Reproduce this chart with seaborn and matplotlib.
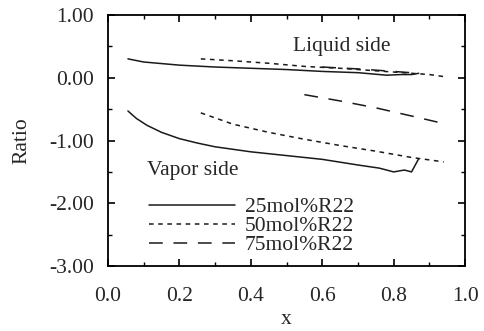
import matplotlib
matplotlib.use("Agg")
import matplotlib.pyplot as plt
import seaborn as sns
import pandas as pd
from matplotlib.lines import Line2D

sns.set_style("ticks")
plt.rcParams['font.family'] = ['Liberation Serif', 'DejaVu Serif']

# Data
x25_liq = [0.056, 0.10, 0.20, 0.30, 0.40, 0.50, 0.60, 0.70, 0.78, 0.82, 0.85, 0.87]
y25_liq = [0.30, 0.25, 0.20, 0.17, 0.15, 0.13, 0.10, 0.08, 0.04, 0.05, 0.05, 0.07]
x25_vap = [0.056, 0.08, 0.11, 0.15, 0.20, 0.25, 0.30, 0.40, 0.50, 0.60, 0.70, 0.76, 0.80, 0.83, 0.85, 0.87]
y25_vap = [-0.53, -0.65, -0.76, -0.87, -0.97, -1.04, -1.10, -1.18, -1.24, -1.30, -1.39, -1.44, -1.50, -1.47, -1.50, -1.29]
x50_liq = [0.26, 0.35, 0.45, 0.55, 0.65, 0.75, 0.85, 0.90, 0.95]
y50_liq = [0.30, 0.27, 0.23, 0.18, 0.15, 0.11, 0.07, 0.05, 0.01]
x50_vap = [0.26, 0.35, 0.45, 0.55, 0.65, 0.75, 0.85, 0.94]
y50_vap = [-0.56, -0.74, -0.87, -0.98, -1.08, -1.17, -1.27, -1.34]
x75_liq = [0.60, 0.70, 0.80, 0.87]
y75_liq = [0.17, 0.14, 0.10, 0.07]
x75_vap = [0.55, 0.65, 0.75, 0.85, 0.94]
y75_vap = [-0.27, -0.37, -0.48, -0.61, -0.73]

series = ["25mol%R22", "50mol%R22", "75mol%R22"]
tick_x = [0.0, 0.2, 0.4, 0.6, 0.8, 1.0]
tick_y = [1.0, 0.0, -1.0, -2.0, -3.0]

frames = []
for name, side, xs, ys in [
    (series[0], "liq", x25_liq, y25_liq), (series[0], "vap", x25_vap, y25_vap),
    (series[1], "liq", x50_liq, y50_liq), (series[1], "vap", x50_vap, y50_vap),
    (series[2], "liq", x75_liq, y75_liq), (series[2], "vap", x75_vap, y75_vap),
]:
    frames.append(pd.DataFrame({"x": xs, "Ratio": ys, "series": name, "side": side}))
df = pd.concat(frames, ignore_index=True)

styles = {series[0]: "-", series[1]: (0, (3, 3)), series[2]: (0, (9, 7))}
col = "#1a1a1a"
FS = 15.5

fig = plt.figure(figsize=(4.84, 3.31), dpi=100)
ax = fig.add_axes([0.223, 0.196, 0.738, 0.759])

for name in series:
    for side in ["liq", "vap"]:
        d = df[(df.series == name) & (df.side == side)]
        sns.lineplot(data=d, x="x", y="Ratio", ax=ax, color=col,
                     lw=1.1, linestyle=styles[name], sort=False, legend=False)

ax.set_xlim(0, 1)
ax.set_ylim(-3, 1)
ax.set_xticks(tick_x)
ax.set_xticklabels([f"{t:.1f}" for t in tick_x])
ax.set_yticks(tick_y)
ax.set_yticklabels([f"{t:.2f}" for t in tick_y])
ax.set_xticks([0.1, 0.3, 0.5, 0.7, 0.9], minor=True)
ax.set_yticks([0.5, -0.5, -1.5, -2.5], minor=True)
ax.tick_params(which="both", direction="in", top=True, right=True, color="black")
ax.tick_params(which="major", length=5, width=1.2, labelsize=FS)
ax.tick_params(axis="y", which="major", pad=10)
ax.tick_params(axis="x", which="major", pad=15)
ax.tick_params(which="minor", length=3, width=1.0)
for s in ax.spines.values():
    s.set_linewidth(1.3)
    s.set_color("black")

ax.set_xlabel("x", fontsize=FS, labelpad=3)
ax.set_ylabel("Ratio", fontsize=FS, labelpad=13)

ax.text(0.518, 0.855, "Liquid side", transform=ax.transAxes, fontsize=FS)
ax.text(0.108, 0.362, "Vapor side", transform=ax.transAxes, fontsize=FS)

handles = [Line2D([], [], color=col, lw=1.1, linestyle=styles[n]) for n in series]
leg = ax.legend(handles, series, loc="upper left", bbox_to_anchor=(0.115, 0.275),
                frameon=False, fontsize=FS, handlelength=4.0, handletextpad=0.45,
                labelspacing=-0.05, borderaxespad=0, borderpad=0)

fig.savefig("out.png", dpi=100)
